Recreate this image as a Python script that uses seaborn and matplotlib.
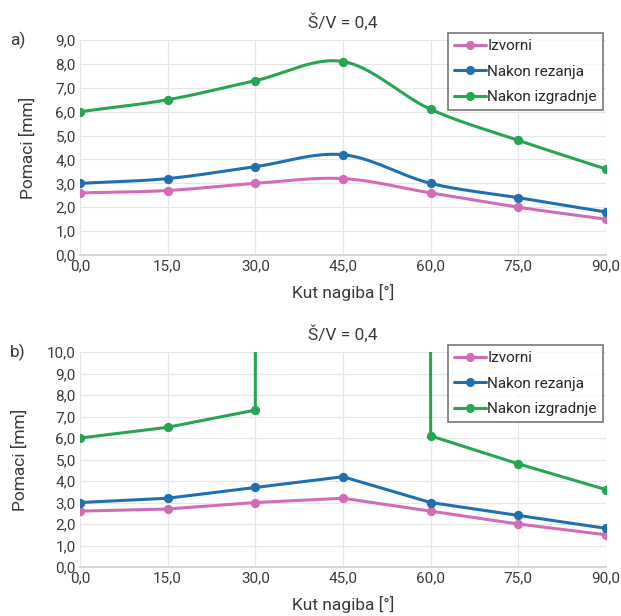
import numpy as np
import pandas as pd
import matplotlib
matplotlib.use('Agg')
import matplotlib.pyplot as plt
import seaborn as sns

# Data
angles = [0, 15, 30, 45, 60, 75, 90]
series_names = ['Izvorni', 'Nakon rezanja', 'Nakon izgradnje']

# a) smoothed chart
a_izvorni = [2.6, 2.7, 3.0, 3.2, 2.6, 2.0, 1.5]
a_rezanja = [3.0, 3.2, 3.7, 4.2, 3.0, 2.4, 1.8]
a_izgradnje = [6.0, 6.5, 7.3, 8.1, 6.1, 4.8, 3.6]

# b) straight lines, the 45 deg value of the last series runs far off the axis
b_izvorni = [2.6, 2.7, 3.0, 3.2, 2.6, 2.0, 1.5]
b_rezanja = [3.0, 3.2, 3.7, 4.2, 3.0, 2.4, 1.8]
b_izgradnje = [6.0, 6.5, 7.3, 5000.0, 6.1, 4.8, 3.6]

title = 'Š/V = 0,4'
x_label = 'Kut nagiba [°]'
y_label = 'Pomaci [mm]'

colors = ['#d26cb6', '#2070b0', '#27a552']

sns.set_theme(style='whitegrid')
plt.rcParams['font.family'] = ['Roboto', 'DejaVu Sans']


def catmull_rom(x, y, n=30):
    """Excel-like smooth line through the points"""
    x = np.asarray(x, float)
    y = np.asarray(y, float)
    px = np.concatenate([[2 * x[0] - x[1]], x, [2 * x[-1] - x[-2]]])
    py = np.concatenate([[2 * y[0] - y[1]], y, [2 * y[-1] - y[-2]]])
    xs, ys = [], []
    t = np.linspace(0, 1, n, endpoint=False)
    for i in range(1, len(px) - 2):
        for p, out in ((px, xs), (py, ys)):
            p0, p1, p2, p3 = p[i - 1], p[i], p[i + 1], p[i + 2]
            out.extend(0.5 * (2 * p1 + (-p0 + p2) * t
                              + (2 * p0 - 5 * p1 + 4 * p2 - p3) * t ** 2
                              + (-p0 + 3 * p1 - 3 * p2 + p3) * t ** 3))
    xs.append(x[-1])
    ys.append(y[-1])
    return np.array(xs), np.array(ys)


fig = plt.figure(figsize=(6.21, 6.16), dpi=100)
ax_a = fig.add_axes([0.1288, 0.586, 0.847, 0.349])
ax_b = fig.add_axes([0.1288, 0.0795, 0.847, 0.349])

panels = [
    (ax_a, [a_izvorni, a_rezanja, a_izgradnje], True, 9, 'a)', 0.935, 0.946),
    (ax_b, [b_izvorni, b_rezanja, b_izgradnje], False, 10, 'b)', 0.4286, 0.440),
]

for ax, data, smooth, ymax, tag, top, leg_y in panels:
    for name, vals, col in zip(series_names, data, colors):
        if smooth:
            sx, sy = catmull_rom(angles, vals)
            sns.lineplot(x=sx, y=sy, ax=ax, color=col, linewidth=2.2, sort=False)
        else:
            sns.lineplot(x=angles, y=vals, ax=ax, color=col, linewidth=2.2, sort=False)
        sns.scatterplot(x=angles, y=vals, ax=ax, color=col, s=45, edgecolor=col,
                        linewidth=0, zorder=5)
        ax.plot([], [], color=col, marker='o', markersize=5.5, linewidth=2.2, label=name)

    ax.set_xlim(0, 90)
    ax.set_ylim(0, ymax)
    ax.set_xticks(angles)
    ax.set_xticklabels([f'{a:.1f}'.replace('.', ',') for a in angles])
    ax.set_yticks(range(0, ymax + 1))
    ax.set_yticklabels([f'{v:.1f}'.replace('.', ',') for v in range(0, ymax + 1)])
    ax.tick_params(labelsize=11, colors='#3a3a3a', pad=3, length=0)
    ax.grid(True, color='#e6e6e6', linewidth=0.9)
    for side in ['top', 'right', 'left']:
        ax.spines[side].set_visible(False)
    ax.spines['bottom'].set_color('#cfcfcf')
    ax.set_xlabel(x_label, fontsize=12.5, color='#3a3a3a', labelpad=8)
    ax.set_ylabel(y_label, fontsize=12.5, color='#3a3a3a', labelpad=14)

    leg = ax.legend(loc='upper right', bbox_to_anchor=(0.971, leg_y),
                    bbox_transform=fig.transFigure, fontsize=11, frameon=True,
                    fancybox=False, handlelength=2.1, handletextpad=0.1,
                    borderpad=0.4, labelspacing=0.75, borderaxespad=0)
    leg.get_frame().set_edgecolor('#555555')
    leg.get_frame().set_linewidth(1.2)
    leg.set_zorder(10)

    fig.text(343 / 621, top + 0.029, title, ha='center', va='center',
             fontsize=12.5, color='#3a3a3a')
    fig.text(18 / 621, top, tag, ha='center', va='center', fontsize=12.5, color='#3a3a3a')

fig.savefig('out.png', dpi=100)
